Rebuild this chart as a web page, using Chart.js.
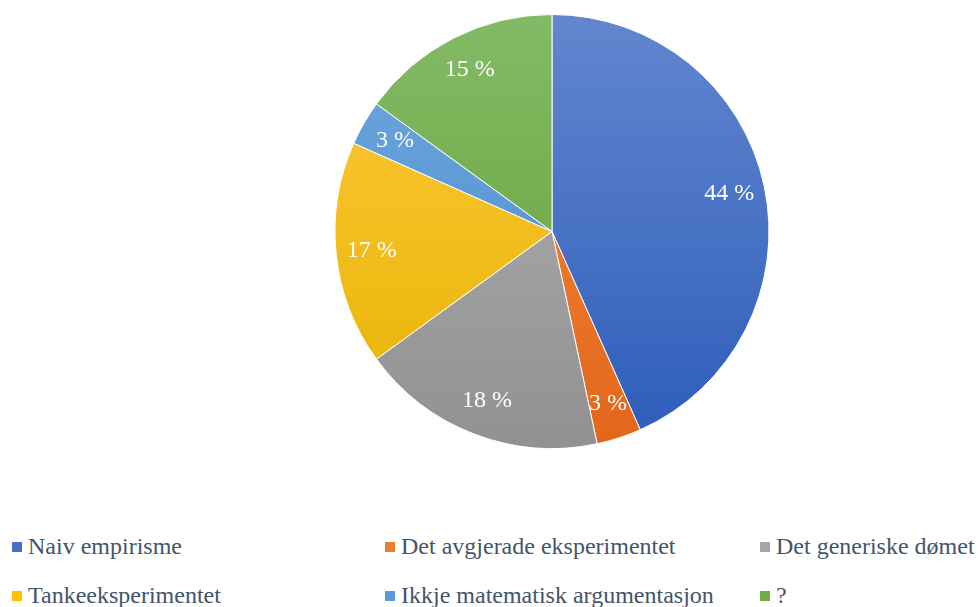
<!DOCTYPE html>
<html>
<head>
<meta charset="utf-8">
<script src="https://cdn.jsdelivr.net/npm/chart.js@4.4.0/dist/chart.umd.min.js"></script>
<style>
  body { margin: 0; background: #fff; width: 978px; height: 607px; overflow: hidden; position: relative; }
  #wrap { position: absolute; left: 0; top: 0; width: 978px; height: 470px; }
  .leg { position: absolute; font-family: 'Liberation Serif', 'Times New Roman', serif; font-size: 24px; color: #44546A; white-space: nowrap; line-height: 24px; }
  .leg span.box { display: inline-block; width: 10px; height: 10px; margin-right: 6px; vertical-align: 2px; }
</style>
</head>
<body>
<div id="wrap"><canvas id="pie" width="978" height="470"></canvas></div>
<div id="legend"></div>
<script>
// Categories and counts (slice angles)
const labels = ["Naiv empirisme", "Det avgjerade eksperimentet", "Det generiske dømet",
                "Tankeeksperimentet", "Ikkje matematisk argumentasjon", "?"];
const counts = [26, 2, 11, 10, 2, 9];

// top / bottom colour of each slice gradient
const topColors = ["#6386CF", "#F28B44", "#B2B2B2", "#FFC93D", "#70A8DE", "#84BA66"];
const bottomColors = ["#2C5DB9", "#E2661A", "#919191", "#E6B300", "#4689CB", "#61A035"];
const legendColors = ["#4472C4", "#ED7D31", "#A5A5A5", "#FFC000", "#5B9BD5", "#70AD47"];

// percentages rounded so they add up to 100 (largest remainder, like Excel)
function percentLabels(vals) {
    const total = vals.reduce((a, b) => a + b, 0);
    const raw = vals.map(v => v / total * 100);
    const out = raw.map(Math.floor);
    let left = 100 - out.reduce((a, b) => a + b, 0);
    const order = raw.map((r, i) => i).sort((a, b) => (raw[b] - out[b]) - (raw[a] - out[a]) || a - b);
    for (let k = 0; k < left; k++) out[order[k]]++;
    return out;
}
const pct = percentLabels(counts);

function grad(ctx, i) {
    const area = ctx.chart.chartArea;
    if (!area) return legendColors[i];
    const g = ctx.chart.ctx.createLinearGradient(0, area.top, 0, area.bottom);
    g.addColorStop(0, topColors[i]);
    g.addColorStop(1, bottomColors[i]);
    return g;
}

// draw the percentage labels inside slices
const sliceLabels = {
    id: 'sliceLabels',
    afterDatasetsDraw(chart) {
        const c = chart.ctx;
        const arcs = chart.getDatasetMeta(0).data;
        c.save();
        c.fillStyle = '#fff';
        c.font = "24px 'Liberation Serif', 'Times New Roman', serif";
        c.textAlign = 'center';
        c.textBaseline = 'middle';
        arcs.forEach((arc, i) => {
            const p = arc.getProps(['x', 'y', 'startAngle', 'endAngle', 'outerRadius'], true);
            const mid = (p.startAngle + p.endAngle) / 2;
            const r = p.outerRadius * 0.835;
            c.fillText(pct[i] + ' %', p.x + Math.cos(mid) * r, p.y + Math.sin(mid) * r);
        });
        c.restore();
    }
};

new Chart(document.getElementById('pie'), {
    type: 'pie',
    data: {
        labels: labels,
        datasets: [{
            data: counts,
            backgroundColor: ctx => grad(ctx, ctx.dataIndex),
            borderColor: '#fff',
            borderWidth: 1
        }]
    },
    options: {
        responsive: false,
        animation: false,
        layout: { padding: { left: 126, top: 14, bottom: 21, right: 0 } },
        plugins: { legend: { display: false }, tooltip: { enabled: false } }
    },
    plugins: [sliceLabels]
});

// legend, 3 columns x 2 rows
const legX = [12, 385, 760];
const legY = [534, 583];
const legend = document.getElementById('legend');
labels.forEach((lab, i) => {
    const d = document.createElement('div');
    d.className = 'leg';
    d.style.left = legX[i % 3] + 'px';
    d.style.top = legY[Math.floor(i / 3)] + 'px';
    d.innerHTML = '<span class="box" style="background:' + legendColors[i] + '"></span>';
    d.appendChild(document.createTextNode(lab));
    legend.appendChild(d);
});
</script>
</body>
</html>
